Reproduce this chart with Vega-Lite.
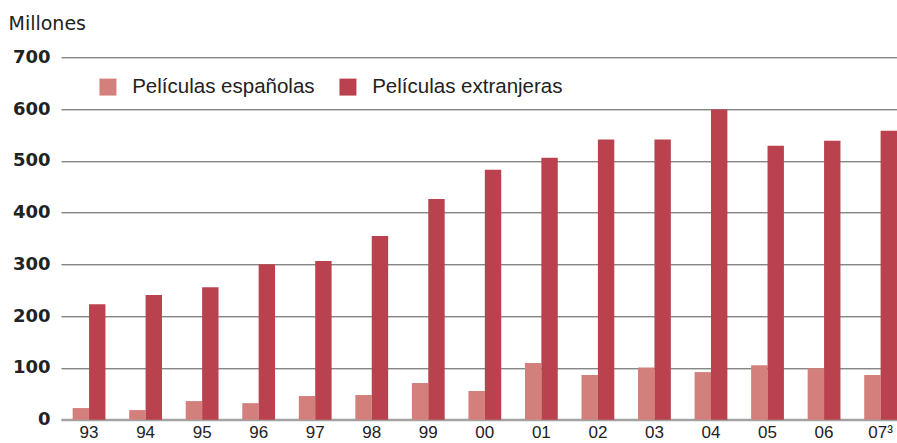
{
  "$schema": "https://vega.github.io/schema/vega-lite/v6.json",
  "width": 836,
  "height": 362.4,
  "autosize": {"type": "none"},
  "padding": {"left": 61, "top": 57.3, "right": 0, "bottom": 23.3},
  "background": "white",
  "data": {
    "values": [
      {"year": "93", "tipo": "Películas españolas", "value": 22.5},
      {"year": "93", "tipo": "Películas extranjeras", "value": 223},
      {"year": "94", "tipo": "Películas españolas", "value": 18.6},
      {"year": "94", "tipo": "Películas extranjeras", "value": 240.7},
      {"year": "95", "tipo": "Películas españolas", "value": 36},
      {"year": "95", "tipo": "Películas extranjeras", "value": 256},
      {"year": "96", "tipo": "Películas españolas", "value": 32},
      {"year": "96", "tipo": "Películas extranjeras", "value": 300.5},
      {"year": "97", "tipo": "Películas españolas", "value": 45.7},
      {"year": "97", "tipo": "Películas extranjeras", "value": 306.5},
      {"year": "98", "tipo": "Películas españolas", "value": 47.6},
      {"year": "98", "tipo": "Películas extranjeras", "value": 355},
      {"year": "99", "tipo": "Películas españolas", "value": 70.9},
      {"year": "99", "tipo": "Películas extranjeras", "value": 426.5},
      {"year": "00", "tipo": "Películas españolas", "value": 55.4},
      {"year": "00", "tipo": "Películas extranjeras", "value": 482.7},
      {"year": "01", "tipo": "Películas españolas", "value": 109.6},
      {"year": "01", "tipo": "Películas extranjeras", "value": 506},
      {"year": "02", "tipo": "Películas españolas", "value": 86.4},
      {"year": "02", "tipo": "Películas extranjeras", "value": 541},
      {"year": "03", "tipo": "Películas españolas", "value": 101},
      {"year": "03", "tipo": "Películas extranjeras", "value": 541},
      {"year": "04", "tipo": "Películas españolas", "value": 92},
      {"year": "04", "tipo": "Películas extranjeras", "value": 599},
      {"year": "05", "tipo": "Películas españolas", "value": 105},
      {"year": "05", "tipo": "Películas extranjeras", "value": 529},
      {"year": "06", "tipo": "Películas españolas", "value": 99.3},
      {"year": "06", "tipo": "Películas extranjeras", "value": 539},
      {"year": "07³", "tipo": "Películas españolas", "value": 86.4},
      {"year": "07³", "tipo": "Películas extranjeras", "value": 558}
    ]
  },
  "mark": {"type": "bar"},
  "encoding": {
    "x": {
      "field": "year",
      "type": "nominal",
      "sort": null,
      "scale": {"paddingInner": 0.42, "paddingOuter": 0.103, "align": 1},
      "axis": {
        "title": null,
        "labelAngle": 0,
        "ticks": false,
        "domain": true,
        "domainColor": "#a3a3a3",
        "domainWidth": 2,
        "labelFont": "Liberation Sans",
        "labelFontSize": 17,
        "labelColor": "#222222",
        "labelPadding": 5,
        "labelBaseline": "top"
      }
    },
    "xOffset": {
      "field": "tipo",
      "type": "nominal",
      "scale": {"domain": ["Películas españolas", "Películas extranjeras"], "paddingInner": 0, "paddingOuter": 0}
    },
    "y": {
      "field": "value",
      "type": "quantitative",
      "scale": {"domain": [0, 700], "nice": false},
      "axis": {
        "title": "Millones",
        "titleAngle": 0,
        "titleAlign": "left",
        "titleBaseline": "alphabetic",
        "titleX": -53,
        "titleY": -28,
        "titleFont": "DejaVu Sans",
        "titleFontSize": 19,
        "titleFontWeight": "normal",
        "titleColor": "#222222",
        "values": [0, 100, 200, 300, 400, 500, 600, 700],
        "domain": false,
        "ticks": false,
        "grid": true,
        "gridColor": {"condition": {"test": "datum.value === 0", "value": "#a3a3a3"}, "value": "#555555"},
        "gridWidth": {"condition": {"test": "datum.value === 0", "value": 2}, "value": 1},
        "labelFont": "DejaVu Sans",
        "labelFontWeight": "bold",
        "labelFontSize": 18,
        "labelColor": "#222222",
        "labelPadding": 11
      }
    },
    "color": {
      "field": "tipo",
      "type": "nominal",
      "scale": {
        "domain": ["Películas españolas", "Películas extranjeras"],
        "range": ["#d3807d", "#b9424e"]
      },
      "legend": {
        "title": null,
        "orient": "none",
        "direction": "horizontal",
        "legendX": 36.7,
        "legendY": 19.4,
        "symbolType": "square",
        "symbolSize": 289,
        "symbolStrokeWidth": 0,
        "labelFont": "Liberation Sans",
        "labelFontSize": 20.5,
        "labelColor": "#222222",
        "labelLimit": 0,
        "labelOffset": 14,
        "columnPadding": 23,
        "padding": 0
      }
    }
  },
  "config": {
    "view": {"stroke": null}
  }
}
